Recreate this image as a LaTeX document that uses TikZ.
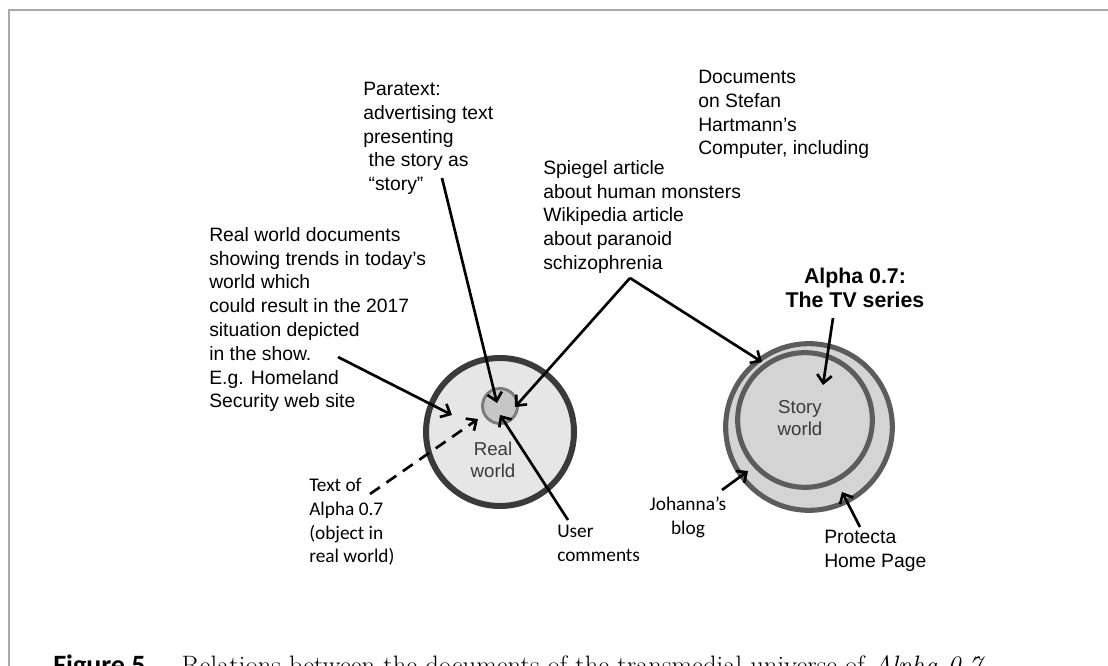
\documentclass[tikz,border=0pt]{standalone}
\usepackage{fontspec}
\setmainfont{Liberation Sans}
\newfontfamily\calfont{Carlito}
\newfontfamily\capserif{Latin Modern Roman}
\usetikzlibrary{arrows.meta}

\definecolor{ringdark}{HTML}{3A3A3A}
\definecolor{ringmid}{HTML}{5C5C5C}
\definecolor{ringlight}{HTML}{7C7C7C}
\definecolor{fillreal}{HTML}{E6E6E6}
\definecolor{fillcore}{HTML}{C6C6C6}
\definecolor{fillstory}{HTML}{D4D4D4}
\definecolor{frameline}{HTML}{AAAAAA}

\tikzset{
  lbl/.style={align=left, inner sep=0pt, font=\fontsize{14.5}{17.85}\selectfont},
  callbl/.style={align=left, inner sep=0pt, font=\calfont\fontsize{14.5}{17.85}\selectfont},
  worldlbl/.style={align=center, inner sep=0pt, text=ringdark, font=\fontsize{14}{16.5}\selectfont},
  ring/.style={circle, draw, inner sep=0pt},
  arr/.style={line width=2pt, -{Straight Barb[length=6pt, width=11pt]}},
}

\begin{document}
\begin{tikzpicture}[x=0.75pt, y=-0.75pt]
    \useasboundingbox (0,0) rectangle (1108,666);
    \fill[white] (0,0) rectangle (1108,666);
    % frame
    \draw[frameline, line width=1.5pt] (9,700) -- (9,10) -- (1140,10);

    % worlds
    \node[ring, draw=ringdark, fill=fillreal, line width=4.5pt, minimum size=111pt] (real) at (500,432) {};
    \node[ring, draw=ringlight, fill=fillcore, line width=2.2pt, minimum size=26.25pt] (core) at (500,406) {};
    \node[ring, draw=ringmid, fill=fillstory, line width=3.8pt, minimum size=125pt] (tvout) at (809,427) {};
    \node[ring, draw=ringmid, fill=fillstory, line width=3.8pt, minimum size=101pt] (tvin) at (805,420) {};
    \node[worldlbl] (reallbl) at (493,460) {Real\\world};
    \node[worldlbl] (storylbl) at (800,418) {Story\\world};

    % labels
    \node[lbl, anchor=north west] (para) at (363,82) {Paratext:\\advertising text\\presenting\\\ the story as\\\ “story”};
    \node[lbl, anchor=north west] (docs) at (698,70) {Documents\\on Stefan\\Hartmann’s\\Computer, including};
    \node[lbl, anchor=north west] (spiegel) at (543,160) {Spiegel article\\about human monsters\\Wikipedia article\\about paranoid\\schizophrenia};
    \node[lbl, anchor=north west] (realdocs) at (209,227) {Real world documents\\showing trends in today’s\\world which\\could result in the 2017\\situation depicted\\in the show.\\E.g. Homeland\\Security web site};
    \node[align=center, inner sep=0pt, font=\bfseries\fontsize{16}{18}\selectfont, anchor=north] (series) at (855,268) {Alpha 0.7:\\The TV series};
    \node[callbl, anchor=north west] (textof) at (309,478) {Text of\\Alpha 0.7\\(object in\\real world)};
    \node[callbl, anchor=north west] (user) at (557,525) {User\\comments};
    \node[callbl, align=center, anchor=north] (johanna) at (688,497) {Johanna’s\\blog};
    \node[lbl, anchor=north west] (protecta) at (824,530) {Protecta\\Home Page};

    % caption
    \node[anchor=base west, inner sep=0pt] (caption) at (53,675) {{\calfont\bfseries\fontsize{21}{24}\selectfont Figure 5}\hspace{27pt}{\capserif\fontsize{20}{24}\selectfont Relations between the documents of the transmedial universe of \textit{Alpha 0.7}}};

    % connector ends
    \coordinate (paraFoot) at (442,178);
    \coordinate (paraTip) at (497,403);
    \coordinate (realFoot) at (338,357);
    \coordinate (realTip) at (452,415);
    \coordinate (fork) at (630,278);
    \coordinate (forkLeft) at (515,407);
    \coordinate (forkRight) at (762,362);
    \coordinate (textFoot) at (370,494);
    \coordinate (textTip) at (478,419);
    \coordinate (userFoot) at (568,520);
    \coordinate (userTip) at (500,415);
    \coordinate (seriesFoot) at (833,318);
    \coordinate (seriesTip) at (823,385);
    \coordinate (blogFoot) at (722,490);
    \coordinate (blogTip) at (748,471);
    \coordinate (homeFoot) at (860,527);
    \coordinate (homeTip) at (842,492);

    % arrows
    \draw[arr] (paraFoot) -- (paraTip);
    \draw[arr] (realFoot) -- (realTip);
    \draw[arr] (fork) -- (forkLeft);
    \draw[arr] (fork) -- (forkRight);
    \draw[arr, dash pattern=on 9pt off 6pt] (textFoot) -- (textTip);
    \draw[arr] (userFoot) -- (userTip);
    \draw[arr] (seriesFoot) -- (seriesTip);
    \draw[arr] (blogFoot) -- (blogTip);
    \draw[arr] (homeFoot) -- (homeTip);
\end{tikzpicture}
\end{document}
